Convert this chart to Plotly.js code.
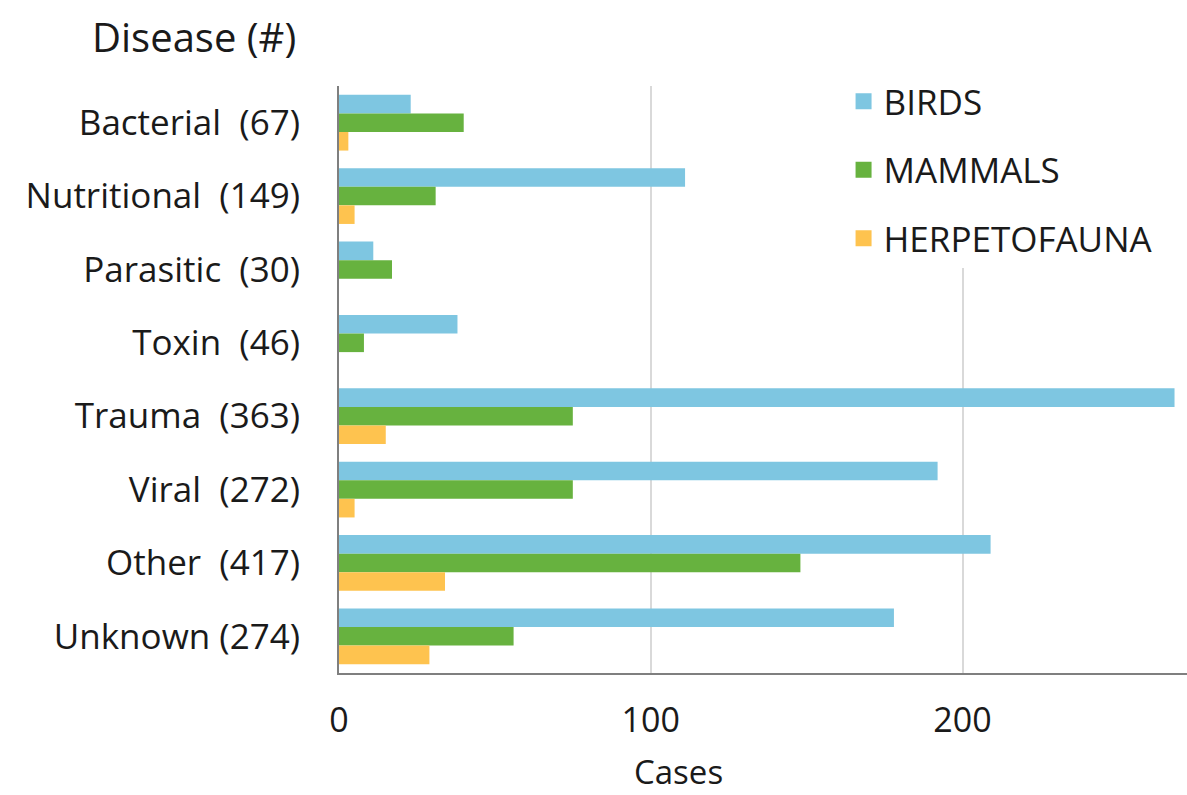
<!DOCTYPE html>
<html>
<head>
<meta charset="utf-8">
<script src="https://cdn.plot.ly/plotly-3.0.1.min.js"></script>
<style>html,body{margin:0;padding:0;background:#fff;}#chart{width:1187px;height:795px;}</style>
</head>
<body>
<div id="chart"></div>
<script>
const categories = ["Bacterial", "Nutritional", "Parasitic", "Toxin", "Trauma", "Viral", "Other", "Unknown"];
const totals = [67, 149, 30, 46, 363, 272, 417, 274];
const birds = [23, 111, 11, 38, 268, 192, 209, 178];
const mammals = [40, 31, 17, 8, 75, 75, 148, 56];
const herpetofauna = [3, 5, 0, 0, 15, 5, 34, 29];
const seriesNames = ["BIRDS", "MAMMALS", "HERPETOFAUNA"];
const xTicks = [0, 100, 200];

const NB = "\u00a0";
const tickText = categories.map((c, i) => c === "Unknown" ? c + NB + "(" + totals[i] + ")" : c + NB + NB + "(" + totals[i] + ")");

const colors = ["#7ec6e1", "#67b23f", "#fec34f"];
const seriesData = [birds, mammals, herpetofauna];
const FONT = "Open Sans, Noto Sans, sans-serif";

const traces = seriesData.map((vals, k) => ({
  type: "bar",
  orientation: "h",
  name: seriesNames[k],
  showlegend: false,
  x: vals,
  y: categories,
  marker: {color: colors[k], line: {width: 0}},
  hoverinfo: "x+name"
}));

// legend entries (square swatches)
const legendTraces = seriesNames.map((n, k) => ({
  type: "scatter",
  mode: "markers",
  name: n,
  legendgroup: "g" + k,
  x: [null],
  y: [null],
  marker: {symbol: "square", size: 20, color: colors[k]},
  hoverinfo: "skip"
}));

const layout = {
  width: 1187, height: 795,
  margin: {l: 339, r: 0, t: 86, b: 122, pad: 0},
  paper_bgcolor: "#ffffff", plot_bgcolor: "#ffffff",
  font: {family: FONT, color: "#1a1a1a", size: 34},
  barmode: "group",
  bargap: 0.24,
  bargroupgap: 0,
  showlegend: true,
  legend: {
    x: 0.595, y: 1.024, xanchor: "left", yanchor: "top",
    bgcolor: "#ffffff",
    font: {family: FONT, size: 35, color: "#1a1a1a"},
    traceorder: "grouped",
    tracegroupgap: 20,
    itemwidth: 30
  },
  title: {
    text: "Disease (#)",
    font: {family: FONT, size: 40, color: "#1a1a1a"},
    xref: "container", yref: "container",
    x: 92 / 1187, xanchor: "left",
    y: 1 - 38 / 795, yanchor: "middle"
  },
  xaxis: {
    range: [0, 272],
    tickvals: xTicks,
    ticktext: xTicks.map(String),
    showgrid: true,
    gridcolor: "#d9d9d9",
    gridwidth: 2,
    zeroline: false,
    showline: true,
    linecolor: "#7f7f7f",
    linewidth: 2,
    ticks: "",
    ticklabelstandoff: 16,
    tickfont: {family: FONT, size: 34, color: "#1a1a1a"}
  },
  yaxis: {
    type: "category",
    categoryorder: "array",
    categoryarray: categories,
    tickvals: categories,
    ticktext: tickText,
    autorange: "reversed",
    showgrid: false,
    zeroline: false,
    showline: true,
    linecolor: "#7f7f7f",
    linewidth: 2,
    ticks: "",
    ticklabelstandoff: 30,
    tickfont: {family: FONT, size: 35, color: "#1a1a1a"}
  },
  annotations: [{
    text: "Cases",
    xref: "paper", yref: "paper",
    x: (678 - 339) / 848, y: -0.167,
    xanchor: "center", yanchor: "middle",
    showarrow: false,
    font: {family: FONT, size: 33, color: "#1a1a1a"}
  }]
};

Plotly.newPlot("chart", traces.concat(legendTraces), layout, {displayModeBar: false, staticPlot: true});
</script>
</body>
</html>
